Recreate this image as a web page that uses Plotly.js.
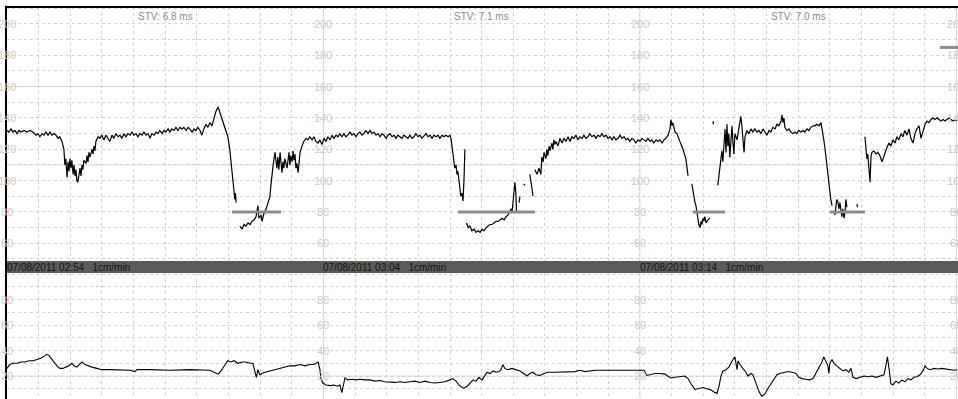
<!DOCTYPE html>
<html>
<head>
<meta charset="utf-8">
<script src="https://cdn.plot.ly/plotly-3.0.1.min.js"></script>
<style>html,body{margin:0;padding:0;background:#fff;}#chart{width:958px;height:399px;}</style>
</head>
<body>
<div id="chart"></div>
<script>
// ---------- DATA (time in minutes from 02:54) ----------
// Fetal heart rate [minute, bpm]; null = signal loss
var fhr = [
[0,132],[0.06,131],[0.13,133],[0.19,131],[0.25,132],[0.32,130],[0.38,132],[0.44,131],[0.54,132],[0.63,131],
[0.73,132],[0.82,131],[0.92,129],[0.98,130],[1.04,128],[1.11,130],[1.17,129],[1.23,131],[1.30,129],[1.36,131],
[1.42,129],[1.49,130],[1.55,129],[1.61,127],[1.67,128],[1.74,125],[1.80,120],[1.83,110],[1.86,114],[1.90,102],
[1.93,112],[1.96,106],[1.99,114],[2.02,108],[2.05,113],[2.09,104],[2.12,110],[2.15,103],[2.18,107],[2.21,100],
[2.24,99],[2.27,104],[2.31,108],[2.34,103],[2.37,110],[2.40,107],[2.43,113],[2.50,111],[2.53,116],[2.56,112],
[2.59,118],[2.62,115],[2.69,120],[2.72,117],[2.75,122],[2.78,119],[2.81,125],[2.88,128],[2.94,127],[3.00,129],
[3.06,126],[3.13,129],[3.19,127],[3.25,125],[3.32,129],[3.38,127],[3.44,130],[3.51,128],[3.57,129],[3.63,127],
[3.70,130],[3.76,128],[3.82,130],[3.89,129],[3.95,131],[4.01,129],[4.08,130],[4.14,128],[4.20,130],[4.27,129],
[4.33,131],[4.39,129],[4.46,130],[4.52,127],[4.58,130],[4.65,129],[4.71,131],[4.77,130],[4.83,132],[4.90,130],
[4.96,132],[5.02,131],[5.09,133],[5.15,131],[5.21,133],[5.28,132],[5.34,134],[5.40,132],[5.47,134],[5.53,133],
[5.59,134],[5.66,132],[5.72,134],[5.78,133],[5.85,131],[5.91,133],[5.97,132],[6.03,134],[6.10,132],[6.16,129],
[6.22,133],[6.29,136],[6.35,134],[6.41,137],[6.48,135],[6.54,140],[6.60,144],[6.67,147],[6.73,143],[6.79,140],
[6.86,135],[6.92,132],[6.98,128],[7.04,120],[7.08,112],[7.11,104],[7.14,99],[7.17,94],[7.20,88],[7.22,92],
[7.24,86],[7.30,null],
[7.36,71],[7.43,69],[7.49,72],[7.55,71],[7.62,73],[7.68,72],[7.74,74],[7.81,75],[7.87,77],[7.93,84],
[7.96,76],[8.03,78],[8.06,74],[8.12,79],[8.19,82],[8.25,86],[8.31,90],[8.34,97],[8.37,104],[8.41,110],
[8.44,114],[8.47,118],[8.50,113],[8.53,108],[8.56,115],[8.59,107],[8.63,118],[8.66,110],[8.69,105],[8.72,112],
[8.75,108],[8.78,114],[8.82,110],[8.85,108],[8.88,113],[8.91,118],[8.94,110],[8.97,116],[9.01,112],[9.04,119],
[9.07,113],[9.10,117],[9.13,108],[9.16,111],[9.20,105],[9.23,115],[9.26,118],[9.32,122],[9.38,125],[9.45,127],
[9.51,126],[9.57,128],[9.64,126],[9.70,128],[9.76,125],[9.83,124],[9.89,126],[9.95,123],[10.02,127],[10.08,125],
[10.14,128],[10.21,126],[10.27,129],[10.33,127],[10.40,129],[10.46,128],[10.52,130],[10.58,128],[10.65,130],[10.71,128],
[10.77,129],[10.84,131],[10.90,129],[10.96,130],[11.03,128],[11.09,130],[11.15,131],[11.22,129],[11.28,130],[11.34,132],
[11.41,130],[11.47,132],[11.53,130],[11.60,131],[11.66,129],[11.72,130],[11.79,128],[11.85,130],[11.91,129],[11.98,127],
[12.04,129],[12.10,130],[12.17,128],[12.23,129],[12.29,127],[12.35,129],[12.42,128],[12.48,127],[12.54,129],[12.61,128],
[12.67,127],[12.73,129],[12.80,127],[12.86,128],[12.92,130],[12.99,128],[13.05,129],[13.11,127],[13.18,129],[13.24,130],
[13.30,128],[13.37,129],[13.43,127],[13.49,129],[13.56,128],[13.62,129],[13.68,127],[13.75,129],[13.81,128],[13.87,129],
[13.94,128],[14.00,129],[14.03,127],[14.06,122],[14.09,117],[14.12,112],[14.15,108],[14.19,110],[14.22,104],[14.25,106],
[14.28,100],[14.31,96],[14.34,90],[14.38,92],[14.41,87],[14.44,100],[14.47,120],[14.50,null],
[14.52,73],[14.57,70],[14.63,71],[14.69,68],[14.76,69],[14.82,67],[14.88,68],[14.95,67],[15.01,69],[15.07,68],
[15.14,70],[15.20,71],[15.26,72],[15.33,72],[15.39,73],[15.45,74],[15.52,74],[15.58,75],[15.64,76],[15.71,75],
[15.77,77],[15.83,78],[15.89,80],[15.93,82],[15.96,80],[15.99,86],[16.02,93],[16.05,99],[16.08,92],[16.10,80],
[16.14,null],[16.18,86],[16.21,90],[16.27,null],[16.33,98],[16.36,97],[16.45,null],
[16.52,104],[16.56,100],[16.59,95],[16.62,90],[16.65,null],
[16.68,107],[16.75,104],[16.81,108],[16.87,104],[16.90,115],[16.94,112],[16.97,118],[17.03,114],[17.06,120],[17.09,116],
[17.13,122],[17.16,119],[17.22,124],[17.25,120],[17.28,126],[17.31,123],[17.35,125],[17.41,122],[17.47,127],[17.54,124],
[17.60,127],[17.66,125],[17.73,128],[17.79,125],[17.85,128],[17.91,127],[17.98,129],[18.04,126],[18.10,128],[18.17,127],
[18.23,129],[18.29,127],[18.36,128],[18.42,130],[18.48,128],[18.55,129],[18.61,127],[18.67,129],[18.74,128],[18.80,130],
[18.86,128],[18.93,129],[18.99,127],[19.05,128],[19.12,126],[19.18,128],[19.24,126],[19.31,127],[19.37,129],[19.43,127],
[19.50,128],[19.56,126],[19.62,127],[19.68,125],[19.75,127],[19.81,126],[19.87,124],[19.94,126],[20.00,125],[20.06,127],
[20.13,126],[20.19,125],[20.25,127],[20.32,125],[20.38,126],[20.44,124],[20.51,126],[20.57,125],[20.63,126],[20.70,124],
[20.76,126],[20.82,127],[20.89,129],[20.95,133],[20.98,139],[21.01,135],[21.04,137],[21.11,131],[21.17,130],[21.23,126],
[21.30,123],[21.36,120],[21.42,116],[21.45,114],[21.49,108],[21.52,103],[21.58,null],
[21.64,98],[21.67,94],[21.71,89],[21.74,86],[21.77,84],[21.80,80],[21.83,76],[21.86,72],[21.90,70],[21.93,74],
[21.96,72],[21.99,76],[22.02,74],[22.05,77],[22.09,73],[22.15,75],[22.21,76],[22.26,null],
[22.31,138],[22.32,136],[22.40,null],
[22.46,97],[22.50,105],[22.53,110],[22.56,116],[22.59,119],[22.62,112],[22.65,125],[22.69,133],[22.72,118],[22.75,136],
[22.78,122],[22.81,130],[22.84,115],[22.88,128],[22.91,135],[22.94,124],[22.97,117],[23.00,130],[23.07,126],[23.13,134],
[23.16,138],[23.19,141],[23.22,135],[23.25,125],[23.29,118],[23.32,128],[23.38,132],[23.44,130],[23.51,133],[23.57,131],
[23.63,133],[23.70,131],[23.76,132],[23.82,130],[23.89,133],[23.95,131],[24.01,129],[24.08,132],[24.14,131],[24.20,134],
[24.27,133],[24.33,136],[24.39,135],[24.46,138],[24.49,142],[24.52,137],[24.55,140],[24.58,134],[24.64,132],[24.71,133],
[24.77,131],[24.83,130],[24.90,131],[24.96,130],[25.02,132],[25.09,131],[25.15,132],[25.21,131],[25.28,133],[25.34,132],
[25.40,134],[25.47,135],[25.53,135],[25.59,136],[25.66,135],[25.72,137],[25.75,134],[25.78,130],[25.81,126],[25.85,120],
[25.88,114],[25.91,108],[25.94,102],[25.97,96],[26.00,92],[26.03,88],[26.07,84],[26.11,null],
[26.16,78],[26.19,84],[26.22,88],[26.26,86],[26.29,82],[26.32,86],[26.35,80],[26.38,77],[26.41,82],[26.45,76],
[26.48,80],[26.51,88],[26.54,83],[26.60,null],[26.86,85],[26.87,83],[26.95,null],
[27.11,128],[27.14,122],[27.17,114],[27.20,117],[27.24,108],[27.27,99],[27.30,115],[27.33,118],[27.39,119],[27.46,117],
[27.52,118],[27.58,116],[27.65,112],[27.68,114],[27.74,118],[27.80,121],[27.87,124],[27.93,122],[27.99,126],[28.06,124],
[28.12,128],[28.18,126],[28.25,130],[28.31,128],[28.37,132],[28.44,129],[28.50,133],[28.56,127],[28.63,124],[28.69,130],
[28.75,133],[28.82,135],[28.88,127],[28.94,132],[29.01,136],[29.07,138],[29.13,137],[29.20,139],[29.26,140],[29.32,139],
[29.39,140],[29.45,139],[29.51,138],[29.58,139],[29.64,138],[29.70,139],[29.77,140],[29.83,139],[29.89,138],[29.96,139],
[30.02,138]
];

// Uterine activity [minute, value]
var toco = [
[0,26],[0.09,29],[0.19,30],[0.32,30],[0.44,31],[0.57,31],[0.70,32],[0.82,32],[0.95,33],[1.07,34],
[1.20,36],[1.26,37],[1.33,36],[1.39,34],[1.49,31],[1.58,28],[1.67,26],[1.77,26],[1.86,27],[1.96,28],
[2.05,30],[2.12,28],[2.21,27],[2.31,30],[2.37,31],[2.46,29],[2.56,28],[2.69,27],[2.84,26],[3.00,25],
[3.25,25],[3.57,25],[3.89,24.5],[4.04,23.5],[4.11,25],[4.52,25],[5.15,24.5],[5.78,25],[6.41,24.5],[6.54,23],
[6.67,21.5],[6.76,24],[6.86,28],[6.98,32],[7.08,31],[7.17,32],[7.30,30],[7.43,31],[7.55,31],[7.68,30],
[7.77,30],[7.84,24],[7.88,19],[7.93,25],[7.99,21],[8.06,22],[8.15,23],[8.31,24],[8.47,25],[8.63,26],
[8.78,27],[8.94,28],[9.10,28],[9.26,29],[9.42,28],[9.57,29],[9.70,29],[9.79,30],[9.83,31],[9.89,25],
[9.92,18],[9.98,14.5],[10.08,13],[10.21,12.5],[10.33,13],[10.46,12],[10.52,13],[10.58,7],[10.62,12],[10.68,18.5],
[10.77,17],[10.90,17.5],[11.03,17],[11.15,17.5],[11.31,17],[11.47,17],[11.63,16],[11.79,16.5],[11.94,15.5],[12.10,15],
[12.26,15],[12.42,15.5],[12.57,15],[12.73,15.5],[12.89,16],[13.05,15],[13.21,16],[13.37,15],[13.52,14.5],[13.68,15],
[13.84,15.5],[14.00,17],[14.09,18],[14.19,16],[14.28,13],[14.38,11],[14.44,10.5],[14.54,12],[14.63,14],[14.73,17],
[14.82,16],[14.91,19],[15.01,17],[15.10,21],[15.17,23],[15.26,22],[15.36,24],[15.45,23],[15.55,23.5],[15.61,25],
[15.67,29],[15.73,26],[15.83,25],[15.96,26],[16.08,25],[16.21,24],[16.33,22],[16.43,20],[16.52,22],[16.62,23],
[16.71,21],[16.84,20.5],[16.97,22],[17.09,23],[17.31,23],[17.63,23.5],[17.95,23.5],[18.10,24.5],[18.26,23.5],[18.58,24.5],
[18.89,24.5],[19.21,24.5],[19.53,25],[19.78,25],[20.00,25],[20.13,24.5],[20.22,20.5],[20.32,21],[20.48,22],[20.63,22],
[20.79,21.5],[20.88,20],[20.98,18.5],[21.11,19],[21.26,19.5],[21.42,20],[21.52,18],[21.61,14],[21.74,9.5],[21.86,10],
[21.99,11],[22.12,10],[22.25,9],[22.37,7],[22.44,6.5],[22.50,12],[22.56,20],[22.62,24],[22.72,25],[22.81,27],
[22.88,31],[22.94,33],[23.00,35],[23.03,31],[23.07,25],[23.10,32],[23.16,29],[23.25,26],[23.35,23],[23.41,20],
[23.51,22],[23.57,21],[23.63,17],[23.70,12],[23.76,8],[23.85,4],[23.95,6],[24.04,10],[24.14,14],[24.23,18],
[24.33,21],[24.42,22],[24.55,23],[24.68,23.5],[24.80,23],[24.93,22],[25.02,19],[25.12,18],[25.24,17.5],[25.37,17],
[25.47,18],[25.56,22],[25.66,26],[25.75,31],[25.81,35],[25.88,31],[25.94,28],[25.97,22],[26.00,30],[26.07,33],
[26.13,30],[26.22,28],[26.32,26],[26.41,24],[26.51,25],[26.60,23],[26.67,26],[26.73,19],[26.83,18],[26.96,19],
[27.08,20],[27.20,19.5],[27.33,20],[27.46,19],[27.58,20],[27.71,21],[27.77,28],[27.82,35],[27.87,26],[27.93,14],
[27.99,13],[28.09,16],[28.18,14.5],[28.28,17],[28.37,15.5],[28.47,18],[28.56,17],[28.66,19],[28.75,19.5],[28.85,21],
[28.94,24],[29.01,28],[29.07,26],[29.17,25],[29.29,26],[29.42,25.5],[29.54,26],[29.67,25.5],[29.80,25],[29.92,24.5],
[30.02,25]
];

// Deceleration baseline markers
var markStart = [7.11, 14.25, 21.67, 26.00, 29.48];
var markEnd   = [8.66, 16.68, 22.69, 27.11, 30.10];
var markValue = [80, 80, 80, 80, 185];

// Page labels
var pageTimes  = [0, 10, 20];
var pageLabels = ["07/08/2011 02:54", "07/08/2011 03:04", "07/08/2011 03:14"];
var speedLabel = "1cm/min";
var stvTimes   = [5, 15, 25];
var stvLabels  = ["STV: 6.8 ms", "STV: 7.1 ms", "STV: 7.0 ms"];
var fhrTickValues  = [200, 180, 160, 140, 120, 100, 80, 60];
var tocoTickValues = [80, 60, 40, 20];
var labelTimes = [0, 10, 20, 30];

// ---------- BUILD ----------
var traces = [];
traces.push({
  x: fhr.map(function(p){return p[0];}), y: fhr.map(function(p){return p[1];}),
  xaxis: 'x', yaxis: 'y', mode: 'lines', connectgaps: false,
  line: {color: '#000', width: 1.2}, hoverinfo: 'skip'
});
traces.push({
  x: toco.map(function(p){return p[0];}), y: toco.map(function(p){return p[1];}),
  xaxis: 'x2', yaxis: 'y2', mode: 'lines',
  line: {color: '#000', width: 1.1}, hoverinfo: 'skip'
});
for (var i = 0; i < markStart.length; i++) {
  traces.push({
    x: [markStart[i], markEnd[i]], y: [markValue[i], markValue[i]],
    xaxis: 'x', yaxis: 'y', mode: 'lines',
    line: {color: '#8c8c8c', width: 3}, hoverinfo: 'skip'
  });
}

var gridCol = '#d3d3d3';
var solidCol = '#dcdcdc';
var shapes = [];
[10, 20, 30].forEach(function(t){
  shapes.push({type:'line', xref:'x', yref:'paper', x0:t, x1:t, y0:0, y1:1, layer:'below', line:{color:solidCol, width:1}});
});
[110, 160].forEach(function(v){
  shapes.push({type:'line', xref:'paper', yref:'y', x0:0, x1:1, y0:v, y1:v, layer:'below', line:{color:solidCol, width:1}});
});
shapes.push({type:'line', xref:'paper', yref:'y2', x0:0, x1:1, y0:20, y1:20, layer:'below', line:{color:solidCol, width:1}});
shapes.push({type:'rect', xref:'paper', yref:'paper', x0:0, x1:1, y0:0.3214, y1:0.352, fillcolor:'#5b5b5b', line:{width:0}, layer:'above'});
shapes.push({type:'line', xref:'paper', yref:'paper', x0:0, x1:0, y0:0, y1:1.003, line:{color:'#000', width:2}});
shapes.push({type:'line', xref:'paper', yref:'paper', x0:0, x1:1, y0:1, y1:1, line:{color:'#000', width:2}});

var ann = [];
var tickFont = {family:'Liberation Sans, Arial, sans-serif', size:11, color:'#cbcbcb'};
labelTimes.forEach(function(t){
  fhrTickValues.forEach(function(v){
    ann.push({xref:'x', yref:'y', x:t, y:v, text:String(v), showarrow:false, xanchor:'center', yanchor:'middle', font:tickFont});
  });
  tocoTickValues.forEach(function(v){
    ann.push({xref:'x2', yref:'y2', x:t, y:v, text:String(v), showarrow:false, xanchor:'center', yanchor:'middle', font:tickFont});
  });
});
stvTimes.forEach(function(t, k){
  ann.push({xref:'x', yref:'y', x:t, y:205, text:stvLabels[k], showarrow:false, xanchor:'center', yanchor:'middle',
    font:{family:'Liberation Sans, Arial, sans-serif', size:10, color:'#8a8a8a'}});
});
pageTimes.forEach(function(t, k){
  ann.push({xref:'x', yref:'paper', x:t, y:0.3367, text:pageLabels[k] + '\u00a0\u00a0\u00a0' + speedLabel, showarrow:false,
    xanchor:'left', yanchor:'middle', xshift:-2,
    font:{family:'Liberation Sans, Arial, sans-serif', size:10, color:'#111'}});
});

var axCommon = {showticklabels:false, ticks:'', zeroline:false, showline:false, showgrid:true,
  gridcolor:gridCol, gridwidth:1, griddash:'dot', fixedrange:true};

var layout = {
  width: 958, height: 399,
  margin: {l:6, r:0, t:7, b:0, pad:0},
  paper_bgcolor:'#fff', plot_bgcolor:'#fff', showlegend:false,
  xaxis: Object.assign({}, axCommon, {range:[-0.03, 30.05], dtick:1, tick0:0, anchor:'y'}),
  xaxis2: Object.assign({}, axCommon, {range:[-0.03, 30.05], dtick:1, tick0:0, anchor:'y2', matches:'x'}),
  yaxis: Object.assign({}, axCommon, {domain:[0.352, 1], range:[48.7, 210.8], dtick:10, tick0:0, anchor:'x'}),
  yaxis2: Object.assign({}, axCommon, {domain:[0, 0.3214], range:[2, 100.8], dtick:10, tick0:0, anchor:'x2'}),
  shapes: shapes, annotations: ann
};

Plotly.newPlot('chart', traces, layout, {displayModeBar:false, staticPlot:true});
</script>
</body>
</html>
